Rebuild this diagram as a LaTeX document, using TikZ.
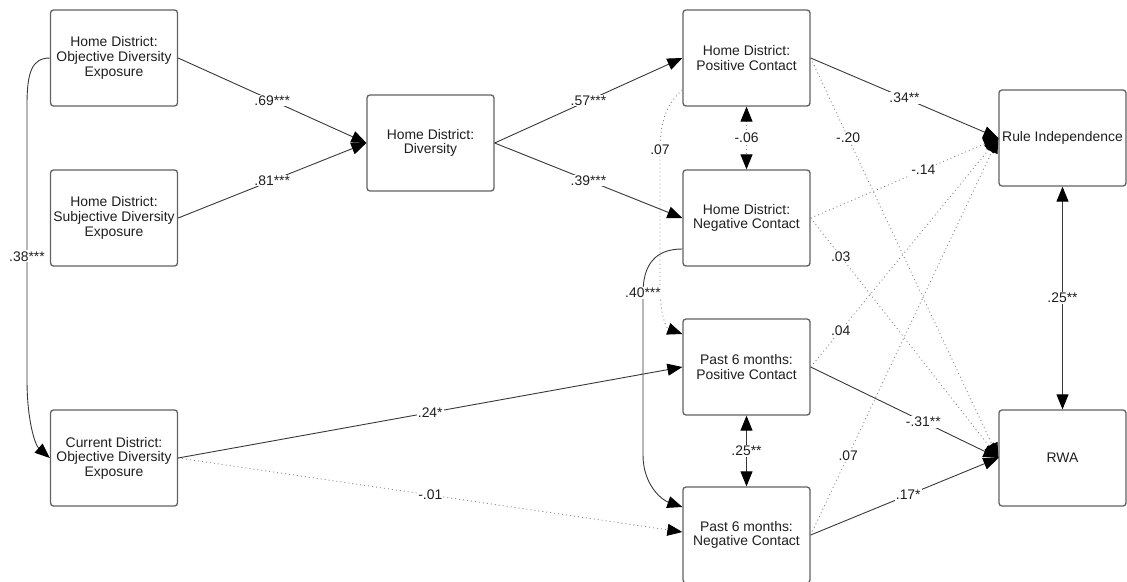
\documentclass[tikz,border=0pt]{standalone}
\usepackage{fontspec}
\setmainfont{Liberation Sans}
\usetikzlibrary{arrows.meta,calc}
\begin{document}
\begin{tikzpicture}[x=1pt,y=1pt,
  box/.style={draw=black!62, line width=1.3pt, rounded corners=3pt, fill=white,
    minimum width=127pt, minimum height=96pt, align=center, inner sep=0pt,
    text=black!88, font=\fontsize{13.9}{14.6}\selectfont},
  lbl/.style={fill=white, inner sep=1pt, text=black!88, font=\fontsize{13.9}{14.6}\selectfont},
  arr/.style={-{Triangle[length=15pt,width=12pt,color=black]}},
  twoway/.style={{Triangle[length=15pt,width=12pt,color=black]}-{Triangle[length=15pt,width=12pt,color=black]}},
  sigline/.style={draw=black!78, line width=0.9pt},
  nsline/.style={draw=black!45, line width=0.9pt, dash pattern=on 1pt off 3pt},
]
\useasboundingbox (0,0) rectangle (1127,-581);

% variables
\node[box] (A) at (114,-58)    {Home District:\\Objective Diversity\\Exposure};
\node[box] (B) at (114,-218)   {Home District:\\Subjective Diversity\\Exposure};
\node[box] (C) at (114,-458)   {Current District:\\Objective Diversity\\Exposure};
\node[box] (D) at (430.5,-143) {Home District:\\Diversity};
\node[box] (E) at (746.5,-58)  {Home District:\\Positive Contact};
\node[box] (F) at (746.5,-218) {Home District:\\Negative Contact};
\node[box] (G) at (746.5,-367) {Past 6 months:\\Positive Contact};
\node[box] (H) at (746.5,-535) {Past 6 months:\\Negative Contact};
\node[box] (I) at (1062.5,-138) {Rule Independence};
\node[box] (J) at (1062.5,-458) {RWA};

% non-significant paths
\draw[nsline,arr] ($(E.west)+(0,-32)$) .. controls (665,-105) and (660,-125) .. (660,-150)
  node[lbl]{.07} -- (660,-285) .. controls (660,-315) and (666,-328) .. ($(G.west)+(0,33)$);
\draw[nsline,twoway] (E.south) -- node[lbl]{-.06} (F.north);
\draw[nsline,arr] (C.east) -- node[lbl]{-.01} ($(H.west)+(0,3)$);
\draw[nsline,arr] (E.east) -- node[lbl,pos=0.2]{-.20} (J.west);
\draw[nsline,arr] (F.east) -- node[lbl,pos=0.6]{-.14} (I.west);
\draw[nsline,arr] (F.east) -- node[lbl,pos=0.16]{.03} (J.west);
\draw[nsline,arr] (G.east) -- node[lbl,pos=0.16]{.04} (I.west);
\draw[nsline,arr] (H.east) -- node[lbl,pos=0.2]{.07} (I.west);

% significant paths
\draw[sigline,arr] (A.east) -- node[lbl]{.69***} (D.west);
\draw[sigline,arr] (B.east) -- node[lbl]{.81***} (D.west);
\draw[sigline,arr] (A.west) .. controls (32,-58) and (27,-72) .. (27,-105)
  -- node[lbl,pos=0.55]{.38***} (27,-380) .. controls (27,-420) and (35,-445) .. (C.west);
\draw[sigline,arr] (D.east) -- node[lbl]{.57***} (E.west);
\draw[sigline,arr] (D.east) -- node[lbl]{.39***} (F.west);
\draw[sigline,arr] ($(F.west)+(0,-31)$) .. controls (655,-249) and (643,-265) .. (643,-293)
  node[lbl]{.40***} -- (643,-455) .. controls (643,-485) and (662,-500) .. ($(H.west)+(0,28)$);
\draw[sigline,arr] (C.east) -- node[lbl]{.24*} (G.west);
\draw[sigline,twoway] (G.south) -- node[lbl]{.25**} (H.north);
\draw[sigline,arr] (E.east) -- node[lbl]{.34**} (I.west);
\draw[sigline,arr] (G.east) -- node[lbl,pos=0.6]{-.31**} (J.west);
\draw[sigline,arr] (H.east) -- node[lbl,pos=0.52]{.17*} (J.west);
\draw[sigline,twoway] (I.south) -- node[lbl]{.25**} (J.north);
\end{tikzpicture}
\end{document}
